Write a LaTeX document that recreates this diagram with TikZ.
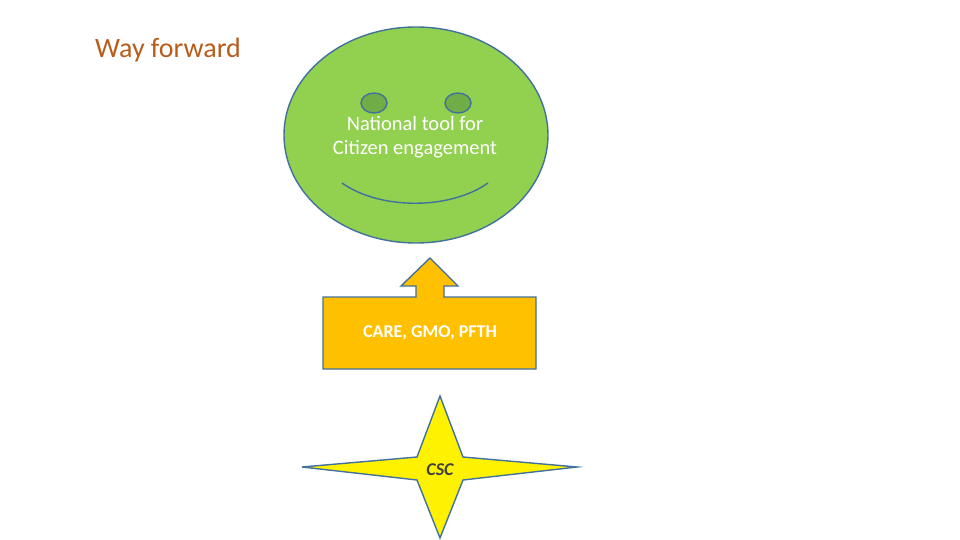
\documentclass[tikz,border=0pt]{standalone}
\usepackage{fontspec}
\setmainfont{Carlito}
\usetikzlibrary{shapes.geometric}
\definecolor{edgec}{RGB}{65,113,156}
\begin{document}
\begin{tikzpicture}[x=1pt,y=-1pt,
  edge/.style={draw=edgec,line width=1.4pt}]
\useasboundingbox (0,0) rectangle (960,540);
\node[font=\fontsize{28}{32}\selectfont,text={rgb,255:red,184;green,92;blue,28}] (title) at (168,50) {Way forward};
\node[edge,ellipse,fill={rgb,255:red,146;green,208;blue,80},minimum width=264,minimum height=216,inner sep=0] (face) at (416,135) {};
\draw[edge,fill={rgb,255:red,112;green,173;blue,71}] (374,103) ellipse [x radius=13,y radius=10];
\draw[edge,fill={rgb,255:red,112;green,173;blue,71}] (458,103) ellipse [x radius=13,y radius=10];
\draw[edge] (342,183) .. controls (380,210) and (450,210) .. (488,183);
\node[text=white,align=center,font=\fontsize{20.5}{24}\selectfont] (lbl) at (415,137) {National tool for\\Citizen engagement};
\draw[edge,fill={rgb,255:red,255;green,192;blue,0}] (323,297) -- (416,297) -- (416,286) -- (401,286) -- (430,258) -- (458,286) -- (444,286) -- (444,297) -- (536,297) -- (536,369) -- (323,369) -- cycle;
\node[text=white,font=\bfseries\fontsize{18}{22}\selectfont] (box) at (430,333) {CARE, GMO, PFTH};
\draw[edge,fill=yellow] (440,396) -- (463,457) -- (577,467) -- (463,480) -- (440,538) -- (417,480) -- (302,467) -- (417,457) -- cycle;
\node[text=black!75,font=\bfseries\itshape\fontsize{18}{22}\selectfont] (csc) at (440,470) {CSC};
\end{tikzpicture}
\end{document}
